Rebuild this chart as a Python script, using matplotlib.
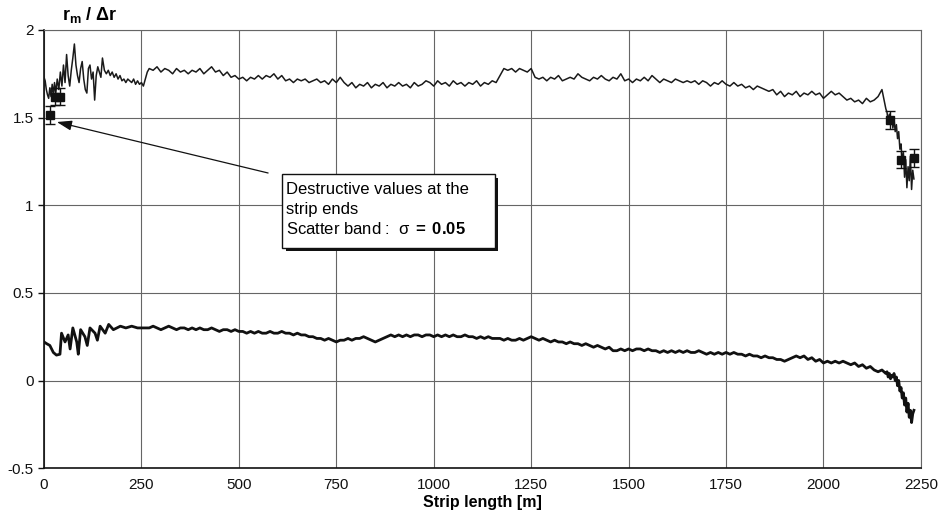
import numpy as np
import matplotlib
matplotlib.use("Agg")
import matplotlib.pyplot as plt
import matplotlib.patheffects as pe
from matplotlib.patches import Rectangle
from matplotlib.ticker import FuncFormatter

plt.rcParams['font.family'] = ['Liberation Sans', 'DejaVu Sans']
plt.rcParams['mathtext.fontset'] = 'custom'
plt.rcParams['mathtext.rm'] = 'Liberation Sans'
plt.rcParams['mathtext.it'] = 'Liberation Sans'
plt.rcParams['mathtext.bf'] = 'Liberation Sans:bold'

# upper curve (r_m / dr) -- start of strip
up_x0 = [0, 3, 6, 9, 12, 15, 18, 21, 24, 27, 30, 34, 38, 42, 46, 50, 54, 58, 62, 66,
         70, 74, 78, 82, 86, 90, 94, 98, 102, 106, 110, 114, 118, 122, 126, 130, 134, 138, 142, 146,
         150, 155, 160, 165, 170, 175, 180, 185, 190, 195, 200, 205, 210, 215, 220, 225, 230, 235, 240, 245,
         250, 255, 260, 265]
up_y0 = [1.73, 1.71, 1.66, 1.63, 1.61, 1.67, 1.62, 1.69, 1.63, 1.70,
         1.64, 1.72, 1.66, 1.76, 1.68, 1.80, 1.70, 1.86, 1.74, 1.68,
         1.77, 1.84, 1.92, 1.80, 1.74, 1.70, 1.78, 1.82, 1.72, 1.66,
         1.64, 1.78, 1.80, 1.72, 1.76, 1.60, 1.74, 1.79, 1.76, 1.73,
         1.84, 1.77, 1.75, 1.77, 1.74, 1.76, 1.73, 1.75, 1.72, 1.74,
         1.71, 1.72, 1.70, 1.72, 1.71, 1.70, 1.72, 1.69, 1.71, 1.69,
         1.70, 1.68, 1.72, 1.76]
# middle part, every 10 m from 270 to 2160
mid_x = np.arange(270, 2161, 10)
up_ym = [1.78, 1.77, 1.79, 1.76, 1.78, 1.77, 1.75, 1.78, 1.76, 1.77,
         1.75, 1.77, 1.76, 1.78, 1.75, 1.77, 1.79, 1.76, 1.77, 1.74,
         1.76, 1.73, 1.74, 1.72, 1.73, 1.71, 1.73, 1.72, 1.74, 1.72,
         1.74, 1.73, 1.75, 1.72, 1.74, 1.71, 1.72, 1.70, 1.72, 1.71,
         1.72, 1.70, 1.71, 1.72, 1.70, 1.71, 1.69, 1.72, 1.70, 1.73,
         1.70, 1.68, 1.70, 1.67, 1.69, 1.68, 1.70, 1.67, 1.69, 1.68,
         1.70, 1.67, 1.69, 1.68, 1.70, 1.68, 1.69, 1.67, 1.70, 1.68,
         1.69, 1.71, 1.70, 1.68, 1.71, 1.69, 1.70, 1.68, 1.71, 1.69,
         1.70, 1.68, 1.70, 1.69, 1.71, 1.68, 1.70, 1.69, 1.71, 1.70,
         1.74, 1.78, 1.77, 1.78, 1.76, 1.78, 1.77, 1.76, 1.78, 1.73,
         1.72, 1.73, 1.71, 1.73, 1.72, 1.74, 1.71, 1.72, 1.73, 1.72,
         1.75, 1.73, 1.72, 1.71, 1.73, 1.72, 1.74, 1.72, 1.71, 1.73,
         1.72, 1.75, 1.71, 1.72, 1.70, 1.72, 1.71, 1.73, 1.71, 1.74,
         1.72, 1.70, 1.72, 1.71, 1.70, 1.72, 1.71, 1.70, 1.71, 1.70,
         1.71, 1.69, 1.71, 1.70, 1.68, 1.70, 1.69, 1.71, 1.69, 1.68,
         1.70, 1.68, 1.69, 1.67, 1.68, 1.66, 1.68, 1.67, 1.66, 1.65,
         1.66, 1.63, 1.65, 1.62, 1.64, 1.63, 1.65, 1.62, 1.64, 1.63,
         1.65, 1.63, 1.64, 1.61, 1.63, 1.65, 1.63, 1.64, 1.62, 1.60,
         1.61, 1.59, 1.60, 1.58, 1.61, 1.59, 1.60, 1.62, 1.66, 1.55]
# end of strip
end_x = [2163, 2166, 2169, 2172, 2175, 2178, 2181, 2184, 2187, 2190, 2193, 2196,
         2199, 2202, 2205, 2208, 2211, 2214, 2217, 2220, 2223, 2226, 2229, 2232]
up_y1 = [1.53, 1.48, 1.52, 1.46, 1.50, 1.44, 1.49, 1.42, 1.46, 1.38, 1.42, 1.32,
         1.35, 1.24, 1.30, 1.16, 1.26, 1.10, 1.22, 1.14, 1.28, 1.09, 1.20, 1.15]

# lower curve
lo_x0 = [0, 7, 15, 24, 32, 41, 45, 54, 62, 67, 74, 84, 88, 94, 105, 111, 118, 131, 137, 144,
         157, 166, 178, 196, 210, 225, 240, 255]
lo_y0 = [0.22, 0.21, 0.20, 0.16, 0.145, 0.15, 0.27, 0.22, 0.26, 0.18,
         0.30, 0.22, 0.15, 0.29, 0.25, 0.20, 0.30, 0.27, 0.23, 0.31,
         0.27, 0.32, 0.29, 0.31, 0.30, 0.31, 0.30, 0.30]
lo_ym = [0.30, 0.31, 0.30, 0.29, 0.30, 0.31, 0.30, 0.29, 0.30, 0.30,
         0.29, 0.30, 0.29, 0.30, 0.29, 0.29, 0.30, 0.29, 0.28, 0.29,
         0.29, 0.28, 0.29, 0.28, 0.28, 0.27, 0.28, 0.27, 0.28, 0.27,
         0.27, 0.28, 0.27, 0.27, 0.28, 0.27, 0.27, 0.26, 0.27, 0.26,
         0.26, 0.25, 0.25, 0.24, 0.24, 0.23, 0.24, 0.23, 0.22, 0.23,
         0.23, 0.24, 0.23, 0.24, 0.24, 0.25, 0.24, 0.23, 0.22, 0.23,
         0.24, 0.25, 0.26, 0.25, 0.26, 0.25, 0.26, 0.25, 0.26, 0.26,
         0.25, 0.26, 0.26, 0.25, 0.26, 0.25, 0.26, 0.25, 0.26, 0.25,
         0.25, 0.26, 0.25, 0.25, 0.24, 0.25, 0.24, 0.25, 0.24, 0.24,
         0.24, 0.23, 0.24, 0.23, 0.23, 0.24, 0.23, 0.24, 0.25, 0.24,
         0.23, 0.24, 0.23, 0.22, 0.23, 0.22, 0.22, 0.21, 0.22, 0.21,
         0.21, 0.20, 0.21, 0.20, 0.19, 0.20, 0.19, 0.18, 0.19, 0.17,
         0.17, 0.18, 0.17, 0.18, 0.17, 0.18, 0.18, 0.17, 0.18, 0.17,
         0.17, 0.16, 0.17, 0.16, 0.17, 0.16, 0.17, 0.16, 0.17, 0.16,
         0.16, 0.17, 0.16, 0.15, 0.16, 0.15, 0.16, 0.15, 0.16, 0.15,
         0.16, 0.15, 0.15, 0.14, 0.15, 0.14, 0.14, 0.13, 0.14, 0.13,
         0.13, 0.12, 0.12, 0.11, 0.12, 0.13, 0.14, 0.13, 0.14, 0.12,
         0.13, 0.11, 0.12, 0.10, 0.11, 0.10, 0.11, 0.10, 0.11, 0.10,
         0.09, 0.10, 0.08, 0.09, 0.07, 0.08, 0.06, 0.05, 0.06, 0.04]
lo_y1 = [0.05, 0.02, 0.04, 0.01, 0.03, 0.02, 0.04, 0.00, 0.02, -0.03, 0.00, -0.06,
         -0.04, -0.10, -0.07, -0.14, -0.10, -0.18, -0.13, -0.21, -0.17, -0.24, -0.19, -0.17]

# destructive measurements at strip ends
pts_x = [15, 28, 42, 2171, 2200, 2232]
pts_y = [1.515, 1.62, 1.62, 1.486, 1.26, 1.27]
pts_err = [0.05] * 6

up_x = np.concatenate([up_x0, mid_x, end_x])
up_y = np.concatenate([up_y0, up_ym, up_y1])
lo_x = np.concatenate([lo_x0, mid_x, end_x])
lo_y = np.concatenate([lo_y0, lo_ym, lo_y1])

fig = plt.figure(figsize=(9.46, 5.26), dpi=100)
ax = fig.add_axes([0.0465, 0.110, 0.927, 0.833])

ax.plot(up_x, up_y, color='#1a1a1a', lw=1.1, zorder=3)
ax.plot(lo_x, lo_y, color='#111111', lw=2.0, zorder=3)
ax.errorbar(pts_x, pts_y, yerr=pts_err, fmt='s', color='#111111', ms=6,
            elinewidth=1.0, capsize=3.5, capthick=1.0, zorder=4)

ax.set_xlim(0, 2250)
ax.set_ylim(-0.5, 2)
ax.set_xticks(np.arange(0, 2251, 250))
ax.set_yticks(np.arange(-0.5, 2.01, 0.5))
ax.yaxis.set_major_formatter(FuncFormatter(lambda v, p: '{:g}'.format(v)))
ax.grid(True, color='#666666', lw=0.8)
ax.set_axisbelow(True)
for s in ['top', 'right']:
    ax.spines[s].set_color('#666666')
    ax.spines[s].set_linewidth(0.8)
for s in ['left', 'bottom']:
    ax.spines[s].set_color('#111111')
    ax.spines[s].set_linewidth(1.2)
ax.tick_params(axis='both', labelsize=11, length=4, width=1, direction='out',
               colors='#111111')
ax.tick_params(axis='x', length=0, pad=7)

ax.set_xlabel('Strip length [m]', fontsize=11.5, fontweight='bold', labelpad=2)
ax.text(0.02, 1.012, r'$\mathbf{r_m\ /\ \Delta r}$', transform=ax.transAxes,
        fontsize=13, ha='left', va='bottom')

# annotation box with shadow
box = Rectangle((611, 0.756), 546, 0.422, facecolor='white', edgecolor='#111111',
                lw=1.0, zorder=5)
box.set_path_effects([pe.SimplePatchShadow(offset=(2.5, -2.5), shadow_rgbFace='#111111',
                                           alpha=1.0), pe.Normal()])
ax.add_patch(box)
ax.text(620, 1.13,
        'Destructive values at the\nstrip ends\n'
        r'Scatter band :  $\sigma\;\mathbf{{=}\;0.05}$',
        fontsize=12, va='top', ha='left', linespacing=1.35, zorder=6)

ax.annotate('', xy=(33, 1.475), xytext=(575, 1.184),
            arrowprops=dict(arrowstyle='-|>,head_length=0.9,head_width=0.3',
                            color='#111111', lw=0.9, shrinkA=0, shrinkB=0),
            zorder=6)

fig.savefig('out.png', dpi=100)
